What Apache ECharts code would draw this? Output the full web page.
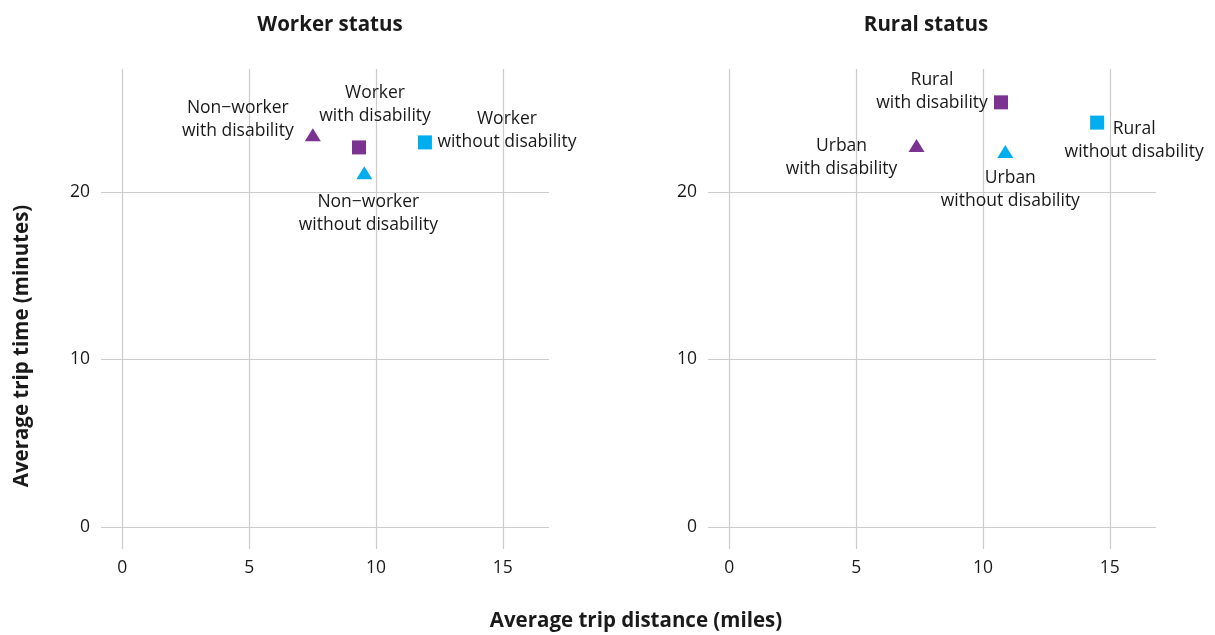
<!DOCTYPE html>
<html>
<head>
<meta charset="utf-8">
<script src="https://cdn.jsdelivr.net/npm/echarts@6/dist/echarts.min.js"></script>
<style>
html,body{margin:0;padding:0;background:#fff;}
#chart{width:1215px;height:635px;}
</style>
</head>
<body>
<div id="chart"></div>
<script>
// ---- Data ----
const panelTitles = ['Worker status', 'Rural status'];
const xTicks = [0, 5, 10, 15];
const yTicks = [0, 10, 20];

// Panel 1: Worker status
const workerNames = ['Non\u2212worker\nwith disability', 'Worker\nwith disability', 'Worker\nwithout disability', 'Non\u2212worker\nwithout disability'];
const workerDistance = [7.51, 9.33, 11.93, 9.54];
const workerTime = [23.42, 22.66, 22.96, 21.15];
const workerDisability = ['with', 'with', 'without', 'without'];
const workerShape = ['triangle', 'rect', 'rect', 'triangle'];

// Panel 2: Rural status
const ruralNames = ['Rural\nwith disability', 'Rural\nwithout disability', 'Urban\nwith disability', 'Urban\nwithout disability'];
const ruralDistance = [10.71, 14.50, 7.38, 10.88];
const ruralTime = [25.35, 24.14, 22.78, 22.42];
const ruralDisability = ['with', 'without', 'with', 'without'];
const ruralShape = ['rect', 'rect', 'triangle', 'triangle'];

// ---- Styling / layout (not data) ----
const colors = { with: '#7b3391', without: '#00aeef' };
const labelOffsets = [
  [[-75, -15], [16, -43], [82, -12], [4, 41]],
  [[-69, -11], [37, 18], [-75, 12], [5, 38]]
];
const FONT = 'Open Sans';
const TEXT = '#1a1a1a';
const GRIDC = '#cccccc';

const chart = echarts.init(document.getElementById('chart'), null, {renderer: 'canvas'});

const grids = [
  {left: 101, top: 69, width: 448, height: 480},
  {left: 708, top: 69, width: 448, height: 480}
];

function xAxisFor(i) {
  return {
    type: 'value', gridIndex: i, min: -0.84, max: 16.82,
    axisLine: {show: false},
    axisTick: {show: false, customValues: xTicks},
    axisLabel: {customValues: xTicks, color: TEXT, fontFamily: FONT, fontSize: 17.5, margin: 10},
    splitLine: {show: true, lineStyle: {color: GRIDC, width: 1.2}}
  };
}
function yAxisFor(i) {
  return {
    type: 'value', gridIndex: i, min: -1.31, max: 27.34,
    axisLine: {show: false},
    axisTick: {show: false, customValues: yTicks},
    axisLabel: {customValues: yTicks, color: TEXT, fontFamily: FONT, fontSize: 17.5, margin: 11},
    splitLine: {show: true, lineStyle: {color: GRIDC, width: 1.2}}
  };
}

const series = [];
function addPanel(p, names, xs, ys, dis, shapes) {
  names.forEach((n, k) => {
    const tri = shapes[k] === 'triangle';
    series.push({
      type: 'scatter', name: n, xAxisIndex: p, yAxisIndex: p,
      symbol: shapes[k], symbolSize: tri ? [16, 13] : 14,
      itemStyle: {color: colors[dis[k]], opacity: 1},
      label: {
        show: true, position: 'inside', offset: labelOffsets[p][k],
        formatter: n, align: 'center', verticalAlign: 'middle',
        color: TEXT, fontFamily: FONT, fontSize: 17.5, lineHeight: 23
      },
      emphasis: {disabled: true},
      data: [[xs[k], ys[k]]]
    });
  });
}
addPanel(0, workerNames, workerDistance, workerTime, workerDisability, workerShape);
addPanel(1, ruralNames, ruralDistance, ruralTime, ruralDisability, ruralShape);

chart.setOption({
  animation: false,
  backgroundColor: '#fff',
  title: [
    {text: panelTitles[0], left: 325, top: 20, textAlign: 'center', textVerticalAlign: 'middle',
     textStyle: {fontFamily: FONT, fontWeight: 'bold', fontSize: 20.5, color: TEXT}},
    {text: panelTitles[1], left: 921, top: 20, textAlign: 'center', textVerticalAlign: 'middle',
     textStyle: {fontFamily: FONT, fontWeight: 'bold', fontSize: 20.5, color: TEXT}}
  ],
  grid: grids,
  xAxis: [xAxisFor(0), xAxisFor(1)],
  yAxis: [yAxisFor(0), yAxisFor(1)],
  graphic: [
    {type: 'text', x: 636, y: 621, style: {text: 'Average trip distance (miles)', x: 0, y: 0, align: 'center', verticalAlign: 'middle',
      font: 'bold 20.5px ' + FONT, fill: TEXT}},
    {type: 'text', x: 22, y: 346, rotation: Math.PI / 2, style: {text: 'Average trip time (minutes)', align: 'center', verticalAlign: 'middle',
      font: 'bold 20.5px ' + FONT, fill: TEXT}}
  ],
  series: series
});
</script>
</body>
</html>
